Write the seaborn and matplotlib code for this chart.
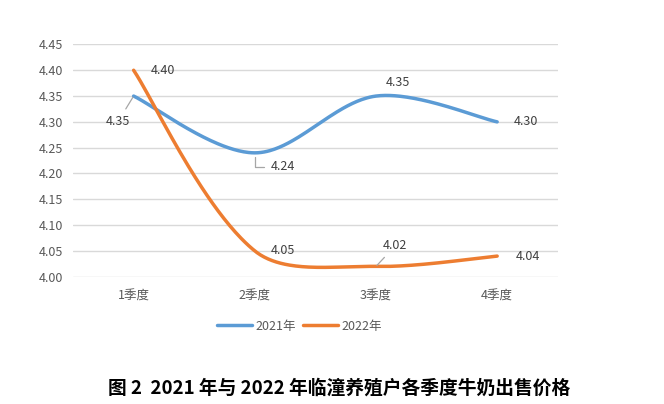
import numpy as np
import pandas as pd
import matplotlib
matplotlib.use("Agg")
import matplotlib.pyplot as plt
from matplotlib.lines import Line2D
import seaborn as sns

categories = ["1季度", "2季度", "3季度", "4季度"]
series_names = ["2021年", "2022年"]
values_2021 = [4.35, 4.24, 4.35, 4.30]
values_2022 = [4.40, 4.05, 4.02, 4.04]
yticks = [4.00, 4.05, 4.10, 4.15, 4.20, 4.25, 4.30, 4.35, 4.40, 4.45]
title = "图 2  2021 年与 2022 年临潼养殖户各季度牛奶出售价格"

colors = {"2021年": "#5B9BD5", "2022年": "#ED7D31"}

sns.set_theme(style="white")
plt.rcParams["font.family"] = ["Noto Sans CJK SC", "DejaVu Sans"]

# pixel scale of the plot area (used only for the smoothing geometry)
SX, SY = 121.3, 516.0


def smooth(xs, ys, n=80):
    # Excel-style smoothed line: cubic Bezier, tangent (P[i+1]-P[i-1]) split
    # in proportion to neighbouring segment lengths (screen space)
    P = np.column_stack([np.asarray(xs, float) * SX, np.asarray(ys, float) * SY])
    m = len(P)
    d = [np.hypot(*(P[i + 1] - P[i])) for i in range(m - 1)]
    out_arm = [None] * m
    in_arm = [None] * m
    for i in range(m):
        if i == 0:
            out_arm[i] = (P[1] - P[0]) / 6.0
        elif i == m - 1:
            in_arm[i] = (P[i] - P[i - 1]) / 6.0
        else:
            tan = P[i + 1] - P[i - 1]
            tot = d[i - 1] + d[i]
            in_arm[i] = tan * d[i - 1] / tot / 3.0
            out_arm[i] = tan * d[i] / tot / 3.0
    segs = []
    t = np.linspace(0, 1, n)[:, None]
    for i in range(m - 1):
        p0, p3 = P[i], P[i + 1]
        c1 = p0 + out_arm[i]
        c2 = p3 - in_arm[i + 1]
        seg = (1 - t) ** 3 * p0 + 3 * (1 - t) ** 2 * t * c1 + 3 * (1 - t) * t ** 2 * c2 + t ** 3 * p3
        if i > 0:
            seg = seg[1:]
        segs.append(seg)
    C = np.vstack(segs)
    return C[:, 0] / SX, C[:, 1] / SY


frames = []
xs = np.arange(len(categories))
for name, vals in zip(series_names, [values_2021, values_2022]):
    cx, cy = smooth(xs, vals)
    frames.append(pd.DataFrame({"x": cx, "y": cy, "series": name}))
df = pd.concat(frames, ignore_index=True)

fig = plt.figure(figsize=(6.64, 4.04), dpi=100)
ax = fig.add_axes([0.110, 0.315, 0.730, 0.575])

sns.lineplot(data=df, x="x", y="y", hue="series", palette=colors, sort=False,
             estimator=None, linewidth=2.5, ax=ax, legend=False)

ax.set_xlim(-0.5, 3.5)
ax.set_ylim(4.00, 4.45)
ax.set_yticks(yticks)
ax.set_yticklabels([f"{v:.2f}" for v in yticks])
ax.set_xticks(xs)
ax.set_xticklabels(categories)
ax.set_xlabel("")
ax.set_ylabel("")
for s in ax.spines.values():
    s.set_visible(False)
ax.grid(axis="y", color="#D9D9D9", linewidth=1.0)
ax.tick_params(axis="y", length=0, pad=7, labelsize=9, labelcolor="#595959")
ax.tick_params(axis="x", length=0, pad=9, labelsize=9, labelcolor="#595959")

# data labels: (dx, dy) in points, leader style
lab_2021 = [(-11, -18, "straight"), (20, -10, "elbow"), (16, 10, None), (21, 0, None)]
lab_2022 = [(21, 0, None), (20, 0, None), (14, 15, "straight"), (22, 0, None)]
for vals, labs in [(values_2021, lab_2021), (values_2022, lab_2022)]:
    for i, (v, (dx, dy, leader)) in enumerate(zip(vals, labs)):
        kw = {}
        if leader == "straight":
            kw["arrowprops"] = dict(arrowstyle="-", color="#A6A6A6", lw=0.9,
                                    shrinkA=2, shrinkB=1)
        elif leader == "elbow":
            kw["arrowprops"] = dict(arrowstyle="-", color="#A6A6A6", lw=0.9,
                                    shrinkA=2, shrinkB=3,
                                    connectionstyle="angle,angleA=0,angleB=90,rad=0",
                                    relpos=(0.0, 0.5))
        ax.annotate(f"{v:.2f}", xy=(i, v), xytext=(dx, dy), textcoords="offset points",
                    ha="center", va="center", fontsize=9, color="#404040", **kw)

handles = [Line2D([0], [0], color=colors[n], lw=2.5) for n in series_names]
fig.legend(handles, series_names, loc="center", bbox_to_anchor=(0.451, 0.193), ncol=2,
           frameon=False, fontsize=9, labelcolor="#595959", handlelength=2.8,
           columnspacing=0.5, handletextpad=0.3)

fig.text(0.511, 0.040, title, ha="center", va="center", fontsize=13.5,
         fontweight="bold", color="black")

fig.savefig("out.png", dpi=100)
